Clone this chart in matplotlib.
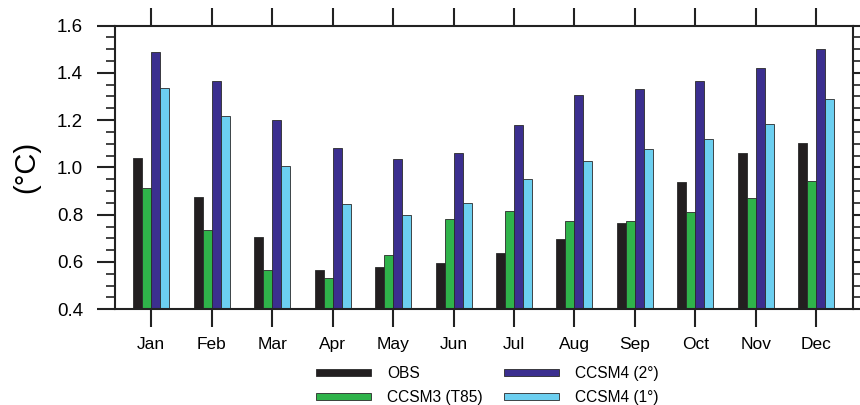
import matplotlib
matplotlib.use("Agg")
import matplotlib.pyplot as plt
import numpy as np
from matplotlib.ticker import MultipleLocator

plt.rcParams['font.family'] = ['Liberation Sans', 'DejaVu Sans']

months = ['Jan', 'Feb', 'Mar', 'Apr', 'May', 'Jun', 'Jul', 'Aug', 'Sep', 'Oct', 'Nov', 'Dec']
obs = [1.04, 0.875, 0.705, 0.567, 0.579, 0.596, 0.639, 0.698, 0.766, 0.938, 1.061, 1.103]
ccsm3 = [0.913, 0.736, 0.565, 0.531, 0.630, 0.783, 0.815, 0.775, 0.775, 0.811, 0.870, 0.941]
ccsm4_2 = [1.486, 1.367, 1.199, 1.082, 1.037, 1.062, 1.181, 1.306, 1.330, 1.367, 1.421, 1.501]
ccsm4_1 = [1.336, 1.219, 1.007, 0.847, 0.798, 0.849, 0.951, 1.025, 1.078, 1.118, 1.185, 1.289]

series_labels = ['OBS', 'CCSM3 (T85)', 'CCSM4 (2°)', 'CCSM4 (1°)']
colors = ['#231f20', '#2fb34a', '#3b2f8f', '#6ccff0']
series = [obs, ccsm3, ccsm4_2, ccsm4_1]

fig = plt.figure(figsize=(8.6, 4.05), dpi=100)
ax = fig.add_axes([115/860, 1 - 309.3/405, (852.5-115)/860, (309.3-25.5)/405])

x = np.arange(len(months))
w = 0.149
offsets = [-1.5, -0.5, 0.5, 1.5]
handles = []
for s, c, o, lab in zip(series, colors, offsets, series_labels):
    vals = np.array(s)
    b = ax.bar(x + o*w, vals - 0.4, bottom=0.4, width=w, color=c,
               edgecolor='#2a2a2a', linewidth=0.6, label=lab, zorder=2)
    handles.append(b)

ax.set_xlim(-0.6, 11.6)
ax.set_ylim(0.4, 1.6)
ax.set_xticks(x)
ax.set_xticklabels(months)
ax.yaxis.set_minor_locator(MultipleLocator(0.05))
yt = np.round(np.arange(0.4, 1.61, 0.2), 1)
ax.set_yticks(yt)
ax.set_yticklabels([f'{v:.1f}' for v in yt])

for sp in ax.spines.values():
    sp.set_linewidth(1.5)
    sp.set_color('#222222')

ax.tick_params(axis='x', which='major', direction='out', length=13, width=1.5,
               top=True, bottom=True, labeltop=False, labelsize=12.5, pad=7,
               color='#222222')
ax.tick_params(axis='x', which='minor', bottom=False, top=False)
ax.tick_params(axis='y', which='major', direction='out', length=13, width=1.5,
               left=True, right=True, labelright=False, labelsize=13.5, pad=10,
               color='#222222')
ax.tick_params(axis='y', which='minor', direction='out', length=6.5, width=1.2,
               left=True, right=True, color='#222222')

fig.text(26/860, 1 - 167/405, '(°C)', rotation=90, ha='center', va='center', fontsize=21)

leg = fig.legend(handles=handles, labels=series_labels, ncol=2, frameon=False,
                 loc='center left', bbox_to_anchor=(316/860, 1 - 385.5/405),
                 borderaxespad=0, borderpad=0,
                 handlelength=3.53, handleheight=0.3, handletextpad=1.03,
                 columnspacing=1.41, labelspacing=0.54, fontsize=11.2)

fig.savefig('out.png', dpi=100)
